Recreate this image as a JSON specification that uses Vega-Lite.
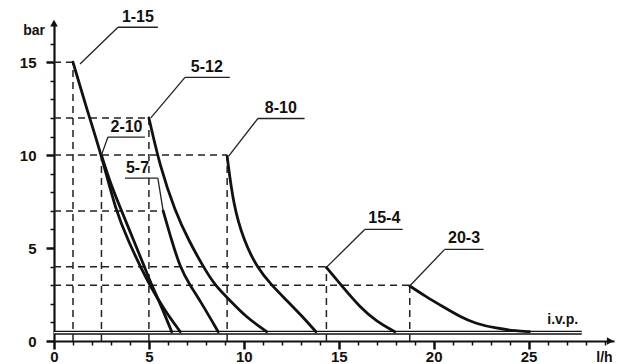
{
  "$schema": "https://vega.github.io/schema/vega-lite/v6.json",
  "width": 560,
  "height": 316,
  "autosize": "none",
  "padding": {"left": 54, "top": 25, "right": 4, "bottom": 23},
  "background": "white",
  "config": {"view": {"stroke": null}},
  "encoding": {
    "x": {
      "field": "x", "type": "quantitative",
      "scale": {"domain": [0, 29.5], "nice": false, "zero": false},
      "axis": {
        "values": [0,1,2,3,4,5,6,7,8,9,10,11,12,13,14,15,16,17,18,19,20,21,22,23,24,25,26,27,28,29],
        "labelExpr": "datum.value % 5 === 0 && datum.value <= 25 ? datum.label : ''",
        "title": null, "grid": false,
        "domainColor": "#111", "domainWidth": 2.2,
        "tickColor": "#111",
        "tickSize": {"condition": {"test": "datum.value % 5 === 0", "value": 8}, "value": 4},
        "tickWidth": {"condition": {"test": "datum.value % 5 === 0", "value": 2.5}, "value": 1.5},
        "labelFont": "Liberation Sans", "labelFontSize": 15, "labelFontWeight": "bold",
        "labelColor": "#111", "labelPadding": 0, "labelFlush": false
      }
    },
    "y": {
      "field": "y", "type": "quantitative",
      "scale": {"domain": [0, 17], "nice": false, "zero": false},
      "axis": {
        "values": [0,1,2,3,4,5,6,7,8,9,10,11,12,13,14,15,16],
        "labelExpr": "datum.value % 5 === 0 ? datum.label : ''",
        "title": null, "grid": false,
        "domainColor": "#111", "domainWidth": 2.2,
        "tickColor": "#111",
        "tickSize": {"condition": {"test": "datum.value % 5 === 0", "value": 8}, "value": 4},
        "tickWidth": {"condition": {"test": "datum.value % 5 === 0", "value": 2.5}, "value": 1.5},
        "labelFont": "Liberation Sans", "labelFontSize": 15, "labelFontWeight": "bold",
        "labelColor": "#111", "labelPadding": 10, "labelFlush": false
      }
    }
  },
  "layer": [
    {
      "data": {"values": [{"x": 0, "y": 0.45, "x2": 27.8}]},
      "mark": {"type": "rule", "color": "#111", "strokeWidth": 4},
      "encoding": {"x2": {"field": "x2"}}
    },
    {
      "data": {"values": [{"x": 0, "y": 0.45, "x2": 27.8}]},
      "mark": {"type": "rule", "color": "white", "strokeWidth": 1.4},
      "encoding": {"x2": {"field": "x2"}}
    },
    {
      "data": {"values": [
        {"x": 0, "y": 15, "x2": 1, "y2": 15},
        {"x": 0, "y": 12, "x2": 5.0, "y2": 12},
        {"x": 0, "y": 10, "x2": 9.12, "y2": 10},
        {"x": 0, "y": 7, "x2": 5.75, "y2": 7},
        {"x": 0, "y": 4, "x2": 14.35, "y2": 4},
        {"x": 0, "y": 3, "x2": 18.74, "y2": 3},
        {"x": 1, "y": 0, "x2": 1, "y2": 15},
        {"x": 2.5, "y": 0, "x2": 2.5, "y2": 10},
        {"x": 5.0, "y": 0, "x2": 5.0, "y2": 12},
        {"x": 9.12, "y": 0, "x2": 9.12, "y2": 10},
        {"x": 14.35, "y": 0, "x2": 14.35, "y2": 4},
        {"x": 18.74, "y": 0, "x2": 18.74, "y2": 3}
      ]},
      "mark": {"type": "rule", "color": "#222", "strokeWidth": 1.5, "strokeDash": [7, 5]},
      "encoding": {"x2": {"field": "x2"}, "y2": {"field": "y2"}}
    },
    {
      "data": {"values": [
        {"series": "1-15", "x": 1, "y": 15},
        {"series": "1-15", "x": 1.75, "y": 12.4},
        {"series": "1-15", "x": 2.5, "y": 10},
        {"series": "1-15", "x": 3.25, "y": 7},
        {"series": "1-15", "x": 3.95, "y": 5.3},
        {"series": "1-15", "x": 4.6, "y": 3.9},
        {"series": "1-15", "x": 5.1, "y": 2.9},
        {"series": "1-15", "x": 5.8, "y": 1.7},
        {"series": "1-15", "x": 6.65, "y": 0.5},
        {"series": "2-10", "x": 2.5, "y": 10},
        {"series": "2-10", "x": 3.0, "y": 8.4},
        {"series": "2-10", "x": 3.56, "y": 7},
        {"series": "2-10", "x": 4.2, "y": 5.4},
        {"series": "2-10", "x": 4.8, "y": 3.9},
        {"series": "2-10", "x": 5.15, "y": 3.0},
        {"series": "2-10", "x": 5.6, "y": 2.0},
        {"series": "2-10", "x": 6.2, "y": 0.5},
        {"series": "5-12", "x": 5.0, "y": 12},
        {"series": "5-12", "x": 5.58, "y": 9.4},
        {"series": "5-12", "x": 6.37, "y": 7.0},
        {"series": "5-12", "x": 7.1, "y": 5.4},
        {"series": "5-12", "x": 7.86, "y": 4.0},
        {"series": "5-12", "x": 8.47, "y": 3.0},
        {"series": "5-12", "x": 9.26, "y": 2.2},
        {"series": "5-12", "x": 10.1, "y": 1.3},
        {"series": "5-12", "x": 11.2, "y": 0.5},
        {"series": "5-7", "x": 5.75, "y": 7.0},
        {"series": "5-7", "x": 6.2, "y": 5.4},
        {"series": "5-7", "x": 6.63, "y": 4.0},
        {"series": "5-7", "x": 7.16, "y": 3.0},
        {"series": "5-7", "x": 7.68, "y": 2.2},
        {"series": "5-7", "x": 8.65, "y": 0.5},
        {"series": "8-10", "x": 9.12, "y": 9.95},
        {"series": "8-10", "x": 9.45, "y": 7.3},
        {"series": "8-10", "x": 10.0, "y": 5.4},
        {"series": "8-10", "x": 10.67, "y": 4.0},
        {"series": "8-10", "x": 11.46, "y": 3.0},
        {"series": "8-10", "x": 12.25, "y": 2.2},
        {"series": "8-10", "x": 13.1, "y": 1.3},
        {"series": "8-10", "x": 13.8, "y": 0.5},
        {"series": "15-4", "x": 14.35, "y": 3.96},
        {"series": "15-4", "x": 15.2, "y": 2.92},
        {"series": "15-4", "x": 16.1, "y": 1.84},
        {"series": "15-4", "x": 17.0, "y": 1.04},
        {"series": "15-4", "x": 17.95, "y": 0.5},
        {"series": "20-3", "x": 18.74, "y": 2.96},
        {"series": "20-3", "x": 19.6, "y": 2.38},
        {"series": "20-3", "x": 20.5, "y": 1.84},
        {"series": "20-3", "x": 21.4, "y": 1.3},
        {"series": "20-3", "x": 22.2, "y": 0.94},
        {"series": "20-3", "x": 23.3, "y": 0.68},
        {"series": "20-3", "x": 24.35, "y": 0.54},
        {"series": "20-3", "x": 25.05, "y": 0.5}
      ]},
      "mark": {"type": "line", "color": "#111", "strokeWidth": 2.8, "interpolate": "basis", "strokeCap": "round"},
      "encoding": {"detail": {"field": "series"}}
    },
    {
      "data": {"values": [
        {"x": 3.37, "y": 16.88, "x2": 1.37, "y2": 14.9},
        {"x": 3.37, "y": 16.88, "x2": 5.47, "y2": 16.88},
        {"x": 6.9, "y": 14.18, "x2": 5.1, "y2": 12.0},
        {"x": 6.9, "y": 14.18, "x2": 9.26, "y2": 14.18},
        {"x": 2.84, "y": 10.97, "x2": 2.5, "y2": 10.0},
        {"x": 2.84, "y": 10.97, "x2": 4.79, "y2": 10.97},
        {"x": 3.74, "y": 8.76, "x2": 5.47, "y2": 8.76},
        {"x": 5.47, "y": 8.76, "x2": 5.75, "y2": 7.0},
        {"x": 10.74, "y": 11.97, "x2": 9.2, "y2": 9.95},
        {"x": 10.74, "y": 11.97, "x2": 13.2, "y2": 11.97},
        {"x": 16.37, "y": 6.0, "x2": 14.35, "y2": 3.96},
        {"x": 16.37, "y": 6.0, "x2": 18.37, "y2": 6.0},
        {"x": 20.58, "y": 4.93, "x2": 18.74, "y2": 2.96},
        {"x": 20.58, "y": 4.93, "x2": 22.63, "y2": 4.93}
      ]},
      "mark": {"type": "rule", "color": "#222", "strokeWidth": 1.3},
      "encoding": {"x2": {"field": "x2"}, "y2": {"field": "y2"}}
    },
    {
      "data": {"values": [
        {"label": "1-15", "x": 4.42, "y": 17.45},
        {"label": "5-12", "x": 8.05, "y": 14.75},
        {"label": "2-10", "x": 3.82, "y": 11.5},
        {"label": "5-7", "x": 4.4, "y": 9.3},
        {"label": "8-10", "x": 11.95, "y": 12.55},
        {"label": "15-4", "x": 17.4, "y": 6.6},
        {"label": "20-3", "x": 21.6, "y": 5.55}
      ]},
      "mark": {"type": "text", "font": "Liberation Sans", "fontSize": 16, "fontWeight": "bold", "color": "#111", "align": "center", "baseline": "middle"},
      "encoding": {"text": {"field": "label"}}
    },
    {
      "data": {"values": [
        {"label": "i.v.p.", "x": 26.8, "y": 1.13},
        {"label": "bar", "x": -1.05, "y": 16.7},
        {"label": "l/h", "x": 29.0, "y": -0.9}
      ]},
      "mark": {"type": "text", "font": "Liberation Sans", "fontSize": 14, "fontWeight": "bold", "color": "#111", "align": "center", "baseline": "middle"},
      "encoding": {"text": {"field": "label"}}
    },
    {
      "data": {"values": [
        {"shape": "triangle-up", "x": 0, "y": 17.1},
        {"shape": "triangle-right", "x": 29.3, "y": 0}
      ]},
      "mark": {"type": "point", "filled": true, "color": "#111", "size": 60, "opacity": 1},
      "encoding": {"shape": {"field": "shape", "type": "nominal", "scale": null}}
    }
  ]
}
